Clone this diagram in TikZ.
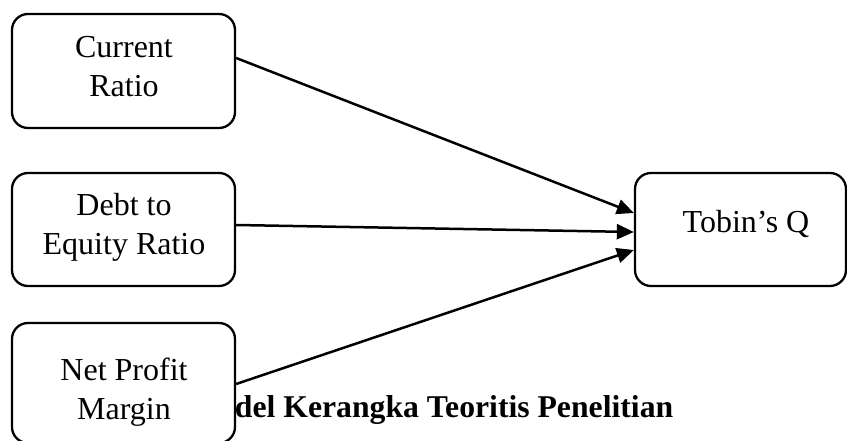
\documentclass[tikz,border=0pt]{standalone}
\usepackage{fontspec}
\setmainfont{Liberation Serif}
\usetikzlibrary{arrows.meta}
\begin{document}
\begin{tikzpicture}[x=1pt,y=-1pt,
  box/.style={draw, line width=2.3pt, rounded corners=16pt, fill=white, inner sep=0pt},
  lbl/.style={font=\fontsize{32}{39}\selectfont, align=center, inner sep=0pt},
  conn/.style={line width=2.5pt, -{Triangle[length=17pt,width=15pt]}}]
\useasboundingbox (0,0) rectangle (847,441);
\node[anchor=base west, inner sep=0pt, font=\fontsize{31.7}{39}\selectfont\bfseries] (cap) at (189,417) {Model Kerangka Teoritis Penelitian};
\begin{scope}
\clip (0,0) rectangle (847,441);
\node[box, minimum width=223pt, minimum height=114pt] (b1) at (123.5,71) {};
\node[box, minimum width=223pt, minimum height=113pt] (b2) at (123.5,229.5) {};
\node[box, minimum width=223pt, minimum height=120pt] (b3) at (123.5,383) {};
\node[box, minimum width=211pt, minimum height=113pt] (b4) at (740.5,229.5) {};
\end{scope}
\node[lbl] (t1) at (124,66.7) {Current\\Ratio};
\node[lbl] (t2) at (124,227.7) {Debt to\\Equity Ratio};
\node[lbl] (t3) at (124,392.6) {Net Profit\\Margin};
\node[lbl, anchor=base] (t4) at (746,233) {Tobin’s Q};
\draw[conn] ([yshift=13pt]b1.east) -- ([yshift=16.5pt]b4.west);
\draw[conn] ([yshift=4.5pt]b2.east) -- ([yshift=-2.5pt]b4.west);
\draw[conn] ([yshift=-1pt]b3.east) -- ([yshift=-20.5pt]b4.west);
\end{tikzpicture}
\end{document}
